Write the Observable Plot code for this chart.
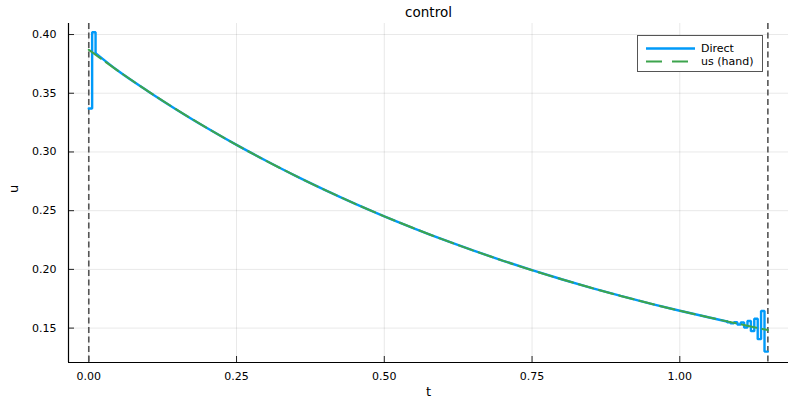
<!DOCTYPE html>
<html><head><meta charset="utf-8">
<script src="https://cdn.jsdelivr.net/npm/d3@7"></script>
<script src="https://cdn.jsdelivr.net/npm/@observablehq/plot@0.6"></script>
<style>
body{margin:0;background:#fff;font-family:"DejaVu Sans",sans-serif;}
#wrap{position:relative;width:800px;height:400px;}
#legend{position:absolute;left:637px;top:35px;width:126px;height:37px;border:1px solid #555;background:#fff;font-size:11px;color:#000;box-sizing:border-box;}
#legend .row{position:absolute;left:0;height:13px;line-height:13px;}
#legend svg{position:absolute;left:7px;top:0;}
#legend span{position:absolute;left:63px;white-space:nowrap;}
</style></head><body><div id="wrap"></div>
<script>
// smooth hand-derived control "us (hand)"
const handT = [0, 0.05, 0.10, 0.15, 0.20, 0.25, 0.30, 0.35, 0.40, 0.45, 0.50, 0.55, 0.60, 0.65, 0.70, 0.75, 0.80, 0.85, 0.90, 0.95, 1.00, 1.05, 1.10, 1.149];
const handU = [0.3870, 0.3689, 0.3518, 0.3356, 0.3204, 0.3060, 0.2925, 0.2796, 0.2675, 0.2560, 0.2452, 0.2350, 0.2253, 0.2162, 0.2075, 0.1993, 0.1916, 0.1843, 0.1774, 0.1709, 0.1648, 0.1590, 0.1535, 0.1483];

// "Direct" piecewise-constant control: first steps, smooth middle, last steps
const directStartT = [0, 0.0057, 0.0115];
const directStartU = [0.337, 0.402];
const directMidT = [0.0115, 0.05, 0.10, 0.15, 0.20, 0.25, 0.30, 0.35, 0.40, 0.45, 0.50, 0.55, 0.60, 0.65, 0.70, 0.75, 0.80, 0.85, 0.90, 0.95, 1.00, 1.05, 1.0801];
const directMidU = [0.3842, 0.3689, 0.3518, 0.3356, 0.3204, 0.3060, 0.2925, 0.2796, 0.2675, 0.2560, 0.2452, 0.2350, 0.2253, 0.2162, 0.2075, 0.1993, 0.1916, 0.1843, 0.1774, 0.1709, 0.1648, 0.1590, 0.1556];
const directEndT = [1.0801, 1.0858, 1.0916, 1.0973, 1.1030, 1.1088, 1.1145, 1.1203, 1.1260, 1.1318, 1.1375, 1.1433, 1.149];
const directEndU = [0.1550, 0.1540, 0.1550, 0.1530, 0.1548, 0.1505, 0.1560, 0.1474, 0.1580, 0.1406, 0.1646, 0.1300];

// vertical markers (t0, tf)
const vlines = [0, 1.149];

const xTicks = [0, 0.25, 0.5, 0.75, 1.0];
const yTicks = [0.15, 0.20, 0.25, 0.30, 0.35, 0.40];
const xDomain = [-0.0343, 1.1839];
const yDomain = [0.1207, 0.4094];

const hand = handT.map((t, i) => ({t, u: handU[i]}));
function steps(T, U) {
  const out = [];
  for (let i = 0; i < U.length; i++) {
    out.push({t: T[i], u: U[i]});
    out.push({t: T[i + 1], u: U[i]});
  }
  return out;
}
const directStart = steps(directStartT, directStartU);
directStart.push({t: directMidT[0], u: directMidU[0]});
const directMid = directMidT.map((t, i) => ({t, u: directMidU[i]}));
const directEnd = [{t: directMidT[directMidT.length - 1], u: directMidU[directMidU.length - 1]}, ...steps(directEndT, directEndU)];

const blue = {x: "t", y: "u", stroke: "#009af9", strokeWidth: 2.4, strokeLinejoin: "miter"};

const chart = Plot.plot({
  width: 800, height: 400,
  marginLeft: 68, marginRight: 12, marginTop: 23, marginBottom: 38,
  style: {fontFamily: "DejaVu Sans, sans-serif", fontSize: "11px", background: "#fff", color: "#000"},
  x: {domain: xDomain},
  y: {domain: yDomain},
  marks: [
    Plot.gridX(xTicks, {stroke: "#000", strokeOpacity: 0.09}),
    Plot.gridY(yTicks, {stroke: "#000", strokeOpacity: 0.09}),
    Plot.axisX(xTicks, {tickFormat: d3.format(".2f"), tickSize: -6, tickPadding: 16, label: null, stroke: "#222"}),
    Plot.axisY(yTicks, {tickFormat: d3.format(".2f"), tickSize: -6, tickPadding: 18, label: null, stroke: "#222"}),
    Plot.ruleY([yDomain[0]], {stroke: "#000", strokeWidth: 1.2}),
    Plot.ruleX([xDomain[0]], {stroke: "#000", strokeWidth: 1.2}),
    Plot.ruleX(vlines, {stroke: "#555", strokeWidth: 1.6, strokeDasharray: "6,3.5"}),
    Plot.line(directStart, blue),
    Plot.line(directMid, {...blue, curve: "monotone-x"}),
    Plot.line(directEnd, blue),
    Plot.line(hand, {x: "t", y: "u", stroke: "#3da44d", strokeWidth: 2, strokeDasharray: "15,6", curve: "monotone-x"}),
    Plot.text(["control"], {frameAnchor: "top", dy: -16, fontSize: 13.5, text: d => d}),
    Plot.text(["t"], {frameAnchor: "bottom", dy: 33, fontSize: 13, text: d => d}),
    Plot.text(["u"], {frameAnchor: "left", dx: -55, rotate: -90, fontSize: 13, text: d => d})
  ]
});
const wrap = document.getElementById("wrap");
wrap.appendChild(chart);

const legendItems = [
  {name: "Direct", color: "#009af9", dash: null, w: 2.4},
  {name: "us (hand)", color: "#3da44d", dash: "16,10", w: 2}
];
const lg = document.createElement("div");
lg.id = "legend";
legendItems.forEach((it, i) => {
  const row = document.createElement("div");
  row.className = "row";
  row.style.top = (6 + i * 13) + "px";
  row.style.width = "124px";
  row.innerHTML = `<svg width="52" height="13"><line x1="1" x2="50" y1="6.5" y2="6.5" stroke="${it.color}" stroke-width="${it.w}" ${it.dash ? `stroke-dasharray="${it.dash}"` : ""}/></svg><span>${it.name}</span>`;
  lg.appendChild(row);
});
wrap.appendChild(lg);
</script>
</body></html>
